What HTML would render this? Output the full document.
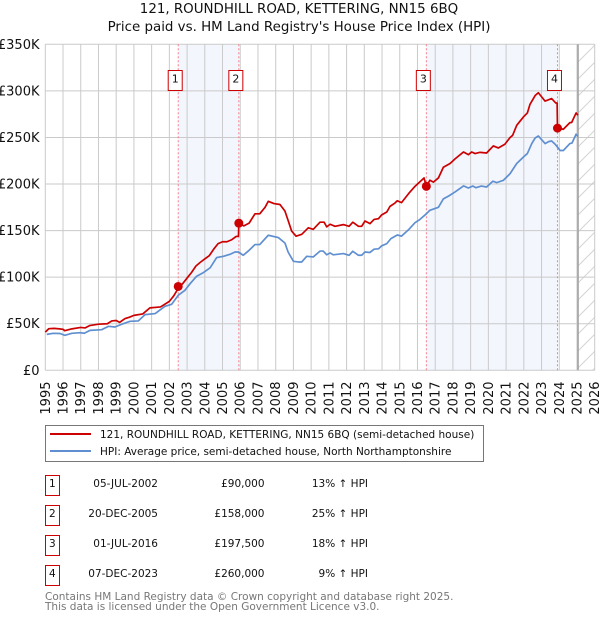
<!DOCTYPE html>
<html>
<head>
<meta charset="utf-8">
<style>
html,body{margin:0;padding:0;background:#fff;}
body{width:600px;height:620px;overflow:hidden;}
svg{display:block;font-family:"DejaVu Sans","Liberation Sans",sans-serif;}
</style>
</head>
<body>
<svg id="chart" width="600" height="620" viewBox="0 0 600 620" xmlns="http://www.w3.org/2000/svg">
<defs>
<pattern id="hatch" width="17" height="17" patternUnits="userSpaceOnUse" x="578" y="45">
<line x1="0" y1="17" x2="17" y2="0" stroke="#d4d4d4" stroke-width="1"/>
</pattern>
</defs>
<text x="299" y="13" text-anchor="middle" font-size="13.4" fill="#111">121, ROUNDHILL ROAD, KETTERING, NN15 6BQ</text>
<text x="299" y="31" text-anchor="middle" font-size="13.4" fill="#111">Price paid vs. HM Land Registry's House Price Index (HPI)</text>
<g id="plot"></g>
<g>
<rect x="45.5" y="425.5" width="438" height="36" fill="#fff" stroke="#777" stroke-width="1"/>
<line x1="50" x2="91" y1="434" y2="434" stroke="#cc0000" stroke-width="2"/>
<text x="100" y="438" font-size="10.5" fill="#111">121, ROUNDHILL ROAD, KETTERING, NN15 6BQ (semi-detached house)</text>
<line x1="50" x2="91" y1="451" y2="451" stroke="#5f8fd0" stroke-width="2"/>
<text x="100" y="455" font-size="10.5" fill="#111">HPI: Average price, semi-detached house, North Northamptonshire</text>
</g>
<g id="table"></g>
<text x="45" y="600" font-size="10.5" fill="#777">Contains HM Land Registry data © Crown copyright and database right 2025.</text>
<text x="45" y="610" font-size="10.5" fill="#777">This data is licensed under the Open Government Licence v3.0.</text>
</svg>
<script>
const priceDates = [1995.0,1995.2,1995.5,1995.8,1996.0,1996.1,1996.5,1997.0,1997.25,1997.5,1998.0,1998.5,1998.75,1999.0,1999.2,1999.5,1999.75,2000.0,2000.5,2000.9,2001.5,2002.0,2002.25,2002.5,2002.75,2003.0,2003.25,2003.5,2003.75,2004.0,2004.25,2004.5,2004.75,2005.0,2005.25,2005.5,2005.75,2005.9,2005.92,2006.2,2006.5,2006.83,2007.1,2007.4,2007.58,2007.9,2008.24,2008.52,2008.7,2008.9,2009.15,2009.47,2009.84,2010.12,2010.5,2010.73,2010.88,2011.07,2011.35,2011.82,2012.14,2012.35,2012.67,2012.85,2013.04,2013.32,2013.55,2013.8,2013.97,2014.27,2014.45,2014.73,2014.86,2015.1,2015.5,2015.86,2016.37,2016.5,2016.7,2016.9,2017.18,2017.46,2017.84,2018.12,2018.6,2018.87,2019.06,2019.25,2019.53,2019.9,2020.28,2020.56,2020.93,2021.22,2021.37,2021.6,2021.98,2022.2,2022.35,2022.64,2022.82,2023.2,2023.57,2023.8,2023.88,2023.9,2024.23,2024.6,2024.7,2024.95,2025.05];
const priceValues = [41,44.7,45,44.5,44,42.5,44.5,46,45.5,48,49.5,50,53,53.5,51.5,55.5,57,59,60.5,67,68,74,80,88,93,99,105,112,116,119.5,123,130,136,138,138,140,143.5,144,158,155,158,168,168,175,181.4,179,178,171,161,149.5,144,146,153,151.4,159,159,154,156.8,154.6,156.4,154.6,159,154.6,154.6,160.3,157.5,162,162.8,166.7,170,176,179.6,182,180,189.7,197.5,206.5,197.5,204,202,206.5,218,222,227,234.4,231.5,234.4,232.7,234,233.3,240.9,238.7,242.7,249.8,252.3,263,272,276.3,285.6,295,298,289,291.7,287,287,260,258.8,265.9,266,276.3,273.8];
const hpiDates = [1995.08,1995.45,1995.83,1996.1,1996.5,1996.96,1997.2,1997.52,1998.18,1998.56,1998.93,1999.4,1999.78,2000.25,2000.63,2001.2,2001.75,2002.13,2002.5,2002.88,2003.17,2003.54,2003.92,2004.3,2004.67,2005.05,2005.42,2005.7,2005.9,2006.17,2006.45,2006.83,2007.1,2007.58,2008.15,2008.52,2008.7,2009.0,2009.27,2009.47,2009.75,2010.12,2010.5,2010.68,2010.88,2011.07,2011.25,2011.82,2012.14,2012.35,2012.67,2012.85,2013.04,2013.32,2013.55,2013.8,2013.97,2014.27,2014.5,2014.86,2015.1,2015.5,2015.86,2016.14,2016.5,2016.7,2017.18,2017.46,2017.75,2018.12,2018.6,2018.87,2019.12,2019.3,2019.6,2019.9,2020.25,2020.47,2020.85,2021.22,2021.6,2021.98,2022.2,2022.45,2022.64,2022.82,2023.2,2023.4,2023.57,2023.77,2024.05,2024.23,2024.6,2024.72,2024.95,2025.05];
const hpiValues = [38.6,39.7,39.5,37.6,39.7,40.4,39.8,42.9,43.6,47.2,46.5,50.1,52.6,53,59.8,60.9,68.7,70.9,80.5,85.9,93,101,104.9,110,121,122.4,124.5,127,127,123.5,128,135,135,145,142.5,136.7,127,117,116.3,116.3,122.4,121.7,128,128,124,126,124,125.3,123.5,127.8,123.5,123.5,127,126.5,130,130.4,133.5,136,141.4,145.3,144,151,158.5,162,168,171.8,175,184,187,191.5,198,195.7,197.8,196,197.8,196.8,203,201.5,204,211,222,229,232.7,243.4,249.4,251.6,243.4,245.5,246.2,242.7,236,236,243.4,244,253.4,251];
const saleLabels = ['1','2','3','4'];
const saleDates = [2002.5,2005.92,2016.5,2023.9];
const saleValues = [90,158,197.5,260];
const saleDateText = ['05-JUL-2002','20-DEC-2005','01-JUL-2016','07-DEC-2023'];
const salePriceText = ['£90,000','£158,000','£197,500','£260,000'];
const saleHpiText = ['13% ↑ HPI','25% ↑ HPI','18% ↑ HPI','9% ↑ HPI'];
const yTicks = [0,50,100,150,200,250,300,350];
const yTickLabels = ['£0','£50K','£100K','£150K','£200K','£250K','£300K','£350K'];
const xTicks = [1995,1996,1997,1998,1999,2000,2001,2002,2003,2004,2005,2006,2007,2008,2009,2010,2011,2012,2013,2014,2015,2016,2017,2018,2019,2020,2021,2022,2023,2024,2025,2026];
const dataEnd = 2025.06;

const NS = 'http://www.w3.org/2000/svg';
const xMin = 1995, xMax = 2026, yMax = 350;
const L = 45.3, R = 594.7, B = 370.3, T = 44.3;
function sx(d){ return L + (d - xMin) * (R - L) / (xMax - xMin); }
function sy(v){ return B - v * (B - T) / yMax; }
function mk(parent, tag, attrs, text){
  const el = document.createElementNS(NS, tag);
  for (const k in attrs) el.setAttribute(k, attrs[k]);
  if (text !== undefined) el.textContent = text;
  parent.appendChild(el);
  return el;
}
const plot = document.getElementById('plot');

// sale-to-sale shading
[[0,1],[2,3]].forEach(function(p){
  const el = mk(plot, 'rect', {x:sx(saleDates[p[0]]), y:T, width:sx(saleDates[p[1]])-sx(saleDates[p[0]]), height:B-T, fill:'#f3f6fd'});
  
  
});
// forecast hatch
const hatchEl = mk(plot, 'rect', {x:sx(dataEnd), y:T, width:R-sx(dataEnd), height:B-T, fill:'url(#hatch)'});



// grid
xTicks.forEach(function(t){
  const g = mk(plot, 'line', {x1:sx(t), x2:sx(t), y1:T, y2:B, stroke:'#cacaca', 'stroke-width':1});
  
  
  const lab = mk(plot, 'text', {transform:'translate('+(sx(t)+4.5)+',381.5) rotate(-90)', 'text-anchor':'end', 'font-size':13, fill:'#111'}, String(t));
  
  
});
yTicks.forEach(function(t, i){
  const g = mk(plot, 'line', {x1:L, x2:R, y1:sy(t), y2:sy(t), stroke:'#cacaca', 'stroke-width':1});
  
  
  const lab = mk(plot, 'text', {x:39.5, y:sy(t)+4.5, 'text-anchor':'end', 'font-size':13, fill:'#111'}, yTickLabels[i]);
  
  
});
// end-of-data line
const endLine = mk(plot, 'line', {x1:sx(dataEnd), x2:sx(dataEnd), y1:T, y2:B, stroke:'#a0a0a0', 'stroke-width':1.5});



// sale guide lines
saleDates.forEach(function(d){
  const l = mk(plot, 'line', {x1:sx(d), x2:sx(d), y1:T, y2:B, stroke:'#f77f88', 'stroke-width':1, 'stroke-dasharray':'2 2'});
  
  
});

function linePath(ds, vs){
  return ds.map(function(d, i){ return (i ? 'L' : 'M') + sx(d).toFixed(2) + ' ' + sy(vs[i]).toFixed(2); }).join('');
}
const hpiLine = mk(plot, 'path', {d:linePath(hpiDates, hpiValues), fill:'none', stroke:'#5f8fd0', 'stroke-width':1.7, 'stroke-linejoin':'round'});


const priceLine = mk(plot, 'path', {d:linePath(priceDates, priceValues), fill:'none', stroke:'#cc0000', 'stroke-width':1.7, 'stroke-linejoin':'round'});



saleDates.forEach(function(d, i){
  const c = mk(plot, 'circle', {cx:sx(d), cy:sy(saleValues[i]), r:4.5, fill:'#cc0000'});
  
  
  const b = mk(plot, 'rect', {x:sx(d)-10, y:70.5, width:14, height:20, fill:'#fff', stroke:'#cc0000', 'stroke-width':1});
  
  
  const t = mk(plot, 'text', {x:sx(d)-3, y:82.5, 'text-anchor':'middle', 'font-size':11, fill:'#111'}, saleLabels[i]);
  
  
});

// table
const table = document.getElementById('table');
saleLabels.forEach(function(s, i){
  const top = 475.5 + i * 30;
  const box = mk(table, 'rect', {x:45.5, y:top, width:14, height:20, fill:'#fff', stroke:'#cc0000', 'stroke-width':1});
  
  
  const n = mk(table, 'text', {x:52.3, y:top+11.5, 'text-anchor':'middle', 'font-size':10.5, fill:'#111'}, s);
  
  
  const d = mk(table, 'text', {x:158, y:top+11.5, 'text-anchor':'end', 'font-size':10.5, fill:'#111'}, saleDateText[i]);
  
  
  const p = mk(table, 'text', {x:264.5, y:top+11.5, 'text-anchor':'end', 'font-size':10.5, fill:'#111'}, salePriceText[i]);
  
  
  const h = mk(table, 'text', {x:368, y:top+11.5, 'text-anchor':'end', 'font-size':10.5, fill:'#111'}, saleHpiText[i]);
  
  
});
</script>
</body>
</html>
